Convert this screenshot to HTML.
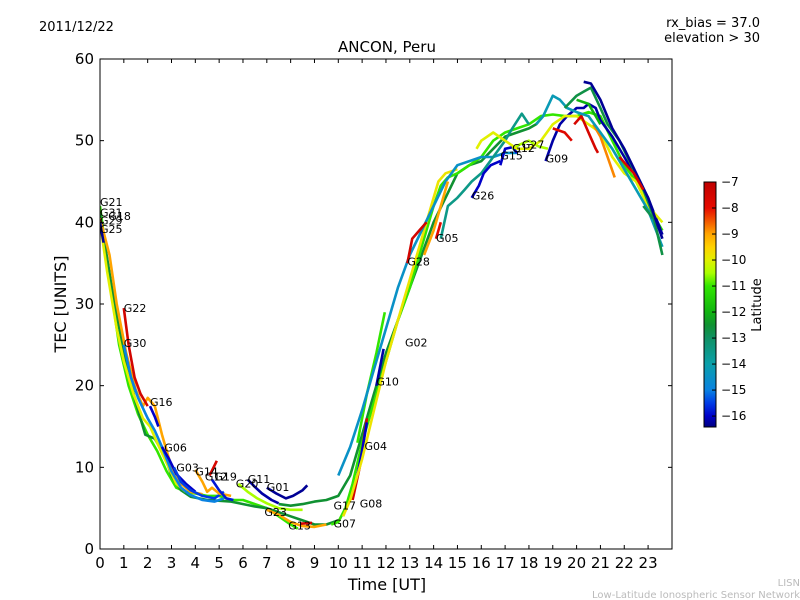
<!DOCTYPE html>
<html><head><meta charset="utf-8"><style>
body{margin:0;background:#fff;}
svg{display:block;font-family:"DejaVu Sans","Liberation Sans",sans-serif;}
</style></head><body>
<svg id="chart" width="800" height="600" viewBox="0 0 800 600">
<rect width="800" height="600" fill="#fff"/>
<text x="39" y="31" font-size="13">2011/12/22</text>
<text x="760" y="27" font-size="13" text-anchor="end">rx_bias = 37.0</text>
<text x="760" y="42" font-size="13" text-anchor="end">elevation &gt; 30</text>
<text x="387" y="52" font-size="15" text-anchor="middle">ANCON, Peru</text>
<text x="387" y="590" font-size="16" text-anchor="middle">Time [UT]</text>
<text x="66" y="304" font-size="16" text-anchor="middle" transform="rotate(-90 66 304)">TEC [UNITS]</text>
<text x="761" y="305" font-size="13" text-anchor="middle" transform="rotate(-90 761 305)">Latitude</text>
<text x="800" y="586" font-size="10" fill="#bbb" text-anchor="end">LISN</text>
<text x="800" y="598" font-size="10" fill="#bbb" text-anchor="end">Low-Latitude Ionospheric Sensor Network</text>
<defs><clipPath id="pc"><rect x="100" y="59" width="572" height="490"/></clipPath>
<linearGradient id="cbg" x1="0" y1="1" x2="0" y2="0"></linearGradient></defs>
<g id="tracks" clip-path="url(#pc)"></g>
<g id="labels"></g>
<rect x="100" y="59" width="572" height="490" fill="none" stroke="#000" stroke-width="1"/>
<g id="axes"></g>
<rect x="704" y="182" width="12" height="245" fill="url(#cbg)" stroke="#000" stroke-width="1"/>
<g id="cbticks"></g>
</svg>
<script>
const xTicks=[0,1,2,3,4,5,6,7,8,9,10,11,12,13,14,15,16,17,18,19,20,21,22,23];
const yTicks=[0,10,20,30,40,50,60];
const cbTicks=[-7,-8,-9,-10,-11,-12,-13,-14,-15,-16];
const trackLats=[-11,-12.5,-9,-10,-16.3,-7.5,-15,-16,-16,-15.5,-9,-7.6,-15.8,-10.5,-16.2,-16.3,-9,-7.5,-12.5,-11,-7.5,-16,-16.2,-11,-9.8,-14.5,-7.5,-8,-9,-13.5,-16,-16,-10.5,-16.2,-10,-7.8,-7.6,-8.8,-14.2,-12.7,-16.3,-12,-12.8,-7.6];
const trackTimes=[
[0,0.4,0.8,1.2,1.6,2,2.4,2.8,3.2,3.6,4,4.5,5,5.5,6,6.5,7,7.5,8,8.3],
[0,0.5,1,1.5,1.9,2.3,2.7,3,3.4,3.8,4.5,5.5,6.5,7,7.5,8,8.5,9,9.5,10],
[0,0.4,0.7,1.1,1.5,1.8,2,2.3,2.6,3,3.4,3.8,4.3],
[0,0.3,0.7,1,1.4,1.8,2.1,2.4,2.8,3.2,3.6],
[0,0.15],
[1,1.2,1.45,1.7,2.0],
[1,1.3,1.6,2,2.3,2.6,3,3.4,3.8,4.3,4.8,5.2],
[2.1,2.3,2.45],
[2.6,2.9,3.2,3.6,4],
[3.1,3.4,3.8,4.3,4.8,5.2],
[4.0,4.3,4.5,4.7,5,5.5],
[4.6,4.9],
[4.7,5,5.3,5.6],
[5.8,6.2,6.6,7,7.5,8,8.5],
[6.2,6.5,6.8,7.2,7.5],
[7.0,7.4,7.8,8.1,8.5,8.7],
[7,7.5,8,8.5,9,9.5],
[8.4,8.9],
[7.5,8,8.5,9,9.5,10,10.5,11,11.5,12,12.5,13,13.5,14,14.5,15,15.5,16,16.5,17,17.5,18,18.3,18.6],
[9.7,10,10.3,10.6,11,11.5,12,12.5,13,13.5,14,14.3,14.6,15,15.5,16,16.5,17,17.5,18,18.5,19,19.5,20,20.5,21,21.5,22,22.5,23,23.6],
[10.6,10.9,11.2],
[10.8,11,11.2],
[11.6,11.9],
[10.8,11.2,11.6,11.95],
[10.2,10.5,11,11.5,12,12.5,13,13.5,14,14.2,14.5,15],
[10,10.5,11,11.5,12,12.5,13,13.5,14,14.5,15,15.5,16,16.5,17,17.5],
[12.9,13.1,13.4,13.7],
[14.1,14.3],
[13.6,14,14.3,14.6],
[14.3,14.6,15,15.3,15.6,16,16.5,17,17.3,17.7,18],
[15.6,15.9,16.1,16.4,16.8],
[16.8,17,17.3,17.5],
[17.3,17.6,18,18.4,18.8],
[18.7,19,19.3,19.6,20,20.3,20.5,20.8,21,21.5,22,22.5,23,23.6],
[15.8,16,16.5,17,17.5,18,18.5,19,19.5,20,20.5,21,21.5,22,22.5,23,23.6],
[19,19.5,19.8],
[19.9,20.2,20.5,20.8,20.9],
[20.7,21,21.3,21.6],
[18.3,18.6,19,19.3,19.6,20,20.5,21,21.5,22,22.5,23,23.6],
[19.5,20,20.3,20.6,21,21.3,21.8,22.3,22.8,23.2,23.6],
[20.3,20.6,21,21.5,22,22.5,23,23.6],
[20,20.5,20.8,21],
[22.8,23.2],
[21.8,22.1,22.4,22.8]
];
const trackTec=[
[42,33,25,20,16.5,14,12,9.5,7.5,7,6.8,6.5,6.5,6,6,5.5,5,4,3,2.5],
[41,32,24,18,14,13.5,11.5,9,7.2,6.4,6,5.8,5.2,5,4.5,4,3.5,3,3,3.5],
[40.5,36,30,24,19.5,17.5,18.5,17.5,14,10,8,7,6.7],
[40,34,27,23,19,16,15,13,10.5,8,7],
[40,37.5],
[29.5,25,21,19,17.5],
[25,21,18.5,16,14.5,12.5,9.5,7.5,6.6,6,5.8,6.2],
[17.5,16.2,15],
[12.5,11,9.2,8,7],
[10,8.2,7.2,6.5,6.2,7],
[9.7,8.2,7,7.5,6.8,6.5],
[9,10.8],
[8.5,7.2,6.2,6],
[8,7,6.2,5.6,5,4.8,4.8],
[8.5,7.6,6.8,6,5.6],
[7.5,6.8,6.2,6.5,7.2,7.8],
[4.8,4.2,3.3,2.8,2.7,3],
[3.1,3.2],
[5.5,5.3,5.5,5.8,6,6.5,9,14,19,24,28,32,36,40,43,46,47,47.5,49,50.5,51,51.5,52,53],
[3,3.3,5,8,13,18,23,28,32,37,42,44.5,45.5,46,47,48,50,51,51.5,52,53,53.2,53,53,53.5,53,50,47,45,42,39],
[6,10,16],
[9,12,15.5],
[20,24.5],
[13,19,24,29],
[4,6,11,17,23,28,33,38,43,45,46,46.5],
[9,12.5,17,22,27,32,36,39,42,45,47,47.5,48,48,48.5,48.5],
[35,38,39,40],
[38,40],
[36,39,42,45],
[38,42,43,44,45,46,48,50,51.5,53.3,52],
[43,44.5,46,47,47.5],
[47,49,49.2,48.5],
[49,49.5,50,49.3,49],
[47.5,50,52,53,54,54,54.5,54,52.5,50.5,48,45.5,43,38.5],
[49,50,51,50,49,49,50,52,53,53,52,51,48,46,45,42,40],
[51.5,51,50],
[52,53,51,49,48.5],
[52,50.5,48,45.5],
[52,53,55.5,55,54,53.5,53,51,49,46.5,44,41.5,37],
[54,55.5,56,56.5,54,52,50,47,44,41,36],
[57.2,57,55,51.5,49,46,43,38],
[55,54.5,53,52],
[42,40.5],
[48,47,46,44]
];
const labelNames=["G21","G31","G18","G29","G25","G22","G30","G16","G06","G03","G14","G12","G19","G20","G11","G01","G23","G13","G17","G07","G08","G04","G10","G02","G28","G05","G26","G15","G12","G27","G09"];
const labelTimes=[0,0,0.35,0,0,1,1,2.1,2.7,3.2,4,4.4,4.8,5.7,6.2,7,6.9,7.9,9.8,9.8,10.9,11.1,11.6,12.8,12.9,14.1,15.6,16.8,17.3,17.7,18.7];
const labelTec=[42.5,41.2,40.8,40.2,39.2,29.5,25.2,18,12.4,10,9.5,8.9,8.9,8,8.6,7.6,4.5,2.9,5.3,3.1,5.6,12.6,20.5,25.3,35.2,38.1,43.3,48.2,49.1,49.5,47.8];

const NS="http://www.w3.org/2000/svg";
const X0=100,PXH=23.83,Y0=549,PYU=8.167;
function xs(t){return X0+t*PXH;}
function ys(v){return Y0-v*PYU;}
const stops=[[-16.42,[0,0,128]],[-16,[0,0,200]],[-15.5,[0,60,230]],[-15,[10,130,225]],[-14,[10,160,170]],[-13,[16,145,100]],[-12.5,[16,145,50]],[-12,[16,180,16]],[-11,[50,230,0]],[-10.5,[170,255,0]],[-10,[225,240,0]],[-9.5,[255,210,0]],[-9,[255,165,0]],[-8,[230,10,0]],[-7,[190,0,0]]];
function col(l){
  for(let i=0;i<stops.length-1;i++){
    const a=stops[i],b=stops[i+1];
    if(l<=b[0]||i==stops.length-2){
      let f=(l-a[0])/(b[0]-a[0]);f=Math.max(0,Math.min(1,f));
      const c=a[1].map((v,k)=>Math.round(v+(b[1][k]-v)*f));
      return `rgb(${c[0]},${c[1]},${c[2]})`;
    }
  }
}
const grad=document.getElementById('cbg');
for(const s of stops){
  const st=document.createElementNS(NS,'stop');
  st.setAttribute('offset',((s[0]+16.42)/9.42).toFixed(4));
  st.setAttribute('stop-color',col(s[0]));
  grad.appendChild(st);
}
const tg=document.getElementById('tracks');
trackTimes.forEach((ts,i)=>{
  const p=document.createElementNS(NS,'polyline');
  p.setAttribute('points',ts.map((t,j)=>xs(t).toFixed(1)+','+ys(trackTec[i][j]).toFixed(1)).join(' '));
  p.setAttribute('fill','none');
  p.setAttribute('stroke',col(trackLats[i]));
  p.setAttribute('stroke-width','2.6');
  p.setAttribute('stroke-linejoin','round');
  
  
  tg.appendChild(p);
});
const lg=document.getElementById('labels');
labelNames.forEach((n,i)=>{
  const t=document.createElementNS(NS,'text');
  t.setAttribute('x',xs(labelTimes[i]).toFixed(1));
  t.setAttribute('y',(ys(labelTec[i])+4).toFixed(1));
  t.setAttribute('font-size','11');
  t.textContent=n;
  
  
  lg.appendChild(t);
});
const ag=document.getElementById('axes');
function ln(x1,y1,x2,y2,g){const l=document.createElementNS(NS,'line');l.setAttribute('x1',x1);l.setAttribute('y1',y1);l.setAttribute('x2',x2);l.setAttribute('y2',y2);l.setAttribute('stroke','#000');l.setAttribute('stroke-width','1');g.appendChild(l);return l;}
xTicks.forEach(t=>{
  const x=xs(t);
  const a=ln(x,549,x,545,ag);
  
  
  const b=ln(x,59,x,63,ag);
  
  
  const tx=document.createElementNS(NS,'text');
  tx.setAttribute('x',x);tx.setAttribute('y',568);tx.setAttribute('font-size','15');tx.setAttribute('text-anchor','middle');
  tx.textContent=t;
  
  
  ag.appendChild(tx);
});
yTicks.forEach(v=>{
  const y=ys(v);
  const a=ln(100,y,104,y,ag);
  
  
  const b=ln(672,y,668,y,ag);
  
  
  const tx=document.createElementNS(NS,'text');
  tx.setAttribute('x',94);tx.setAttribute('y',y+5);tx.setAttribute('font-size','15');tx.setAttribute('text-anchor','end');
  tx.textContent=v;
  
  
  ag.appendChild(tx);
});
const cg=document.getElementById('cbticks');
cbTicks.forEach(v=>{
  const y=427-(v+16.42)/9.42*245;
  const a=ln(716,y,712,y,cg);
  
  
  const tx=document.createElementNS(NS,'text');
  tx.setAttribute('x',721);tx.setAttribute('y',y+4);tx.setAttribute('font-size','12');
  tx.textContent='\u2212'+Math.abs(v);
  
  
  cg.appendChild(tx);
});
</script>
</body></html>
